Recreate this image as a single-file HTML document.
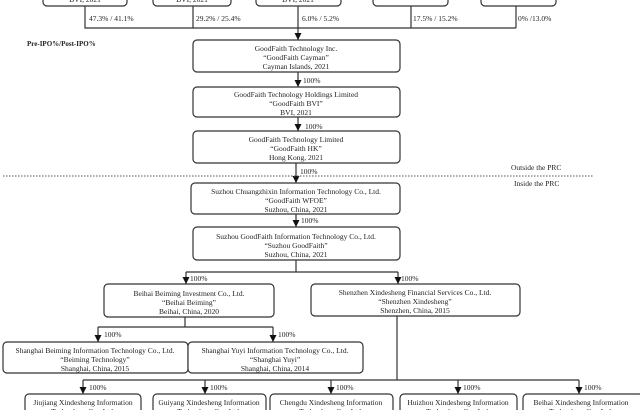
<!DOCTYPE html>
<html><head><meta charset="utf-8"><style>
html,body{margin:0;padding:0;background:#fff;width:640px;height:410px;overflow:hidden}
svg{display:block}
text{font-family:"Liberation Serif",serif;font-size:7.5px;fill:#222}
.b{fill:#fff;stroke:#333;stroke-width:1.2}
.l{stroke:#333;stroke-width:1.2;fill:none}
</style></head><body>
<svg width="640" height="410" viewBox="0 0 640 410" xmlns="http://www.w3.org/2000/svg">
<defs><marker id="a" markerWidth="7" markerHeight="7" refX="7" refY="3.5" orient="auto" markerUnits="userSpaceOnUse"><path d="M0,0 L7,3.5 L0,7 z" fill="#111"/></marker></defs>
<rect class="b" x="43" y="-20" width="84" height="26" rx="4"/>
<rect class="b" x="153" y="-20" width="78" height="26" rx="4"/>
<rect class="b" x="256" y="-20" width="85" height="26" rx="4"/>
<rect class="b" x="373" y="-20" width="75" height="26" rx="4"/>
<rect class="b" x="481" y="-20" width="75" height="26" rx="4"/>
<g text-anchor="middle"><text x="85" y="2">BVI, 2021</text><text x="192" y="2">BVI, 2021</text><text x="298" y="2">BVI, 2021</text></g>
<path class="l" d="M85 6V28H516M193 6V28M298 6V28M411 6V28M516 6V28"/>
<path class="l" d="M298 28V40" marker-end="url(#a)"/>
<text x="89" y="21">47.3% / 41.1%</text><text x="196" y="21">29.2% / 25.4%</text><text x="302" y="21">6.0% / 5.2%</text><text x="413" y="21">17.5% / 15.2%</text><text x="518" y="21">0% /13.0%</text>
<text x="27" y="46" style="font-weight:bold;font-size:7px">Pre-IPO%/Post-IPO%</text>
<rect class="b" x="193" y="40" width="207" height="32" rx="4"/>
<g text-anchor="middle"><text x="296" y="51">GoodFaith Technology Inc.</text><text x="296" y="60">“GoodFaith Cayman”</text><text x="296" y="69">Cayman Islands, 2021</text></g>
<path class="l" d="M298 72V87" marker-end="url(#a)"/><text x="303" y="83">100%</text>
<rect class="b" x="193" y="87" width="207" height="30" rx="4"/>
<g text-anchor="middle"><text x="296" y="97">GoodFaith Technology Holdings Limited</text><text x="296" y="106">“GoodFaith BVI”</text><text x="296" y="115">BVI, 2021</text></g>
<path class="l" d="M298 117V131" marker-end="url(#a)"/><text x="305" y="129">100%</text>
<rect class="b" x="193" y="131" width="207" height="32" rx="4"/>
<g text-anchor="middle"><text x="296" y="142">GoodFaith Technology Limited</text><text x="296" y="151">“GoodFaith HK”</text><text x="296" y="160">Hong Kong, 2021</text></g>
<path class="l" d="M296 163V183" marker-end="url(#a)"/><text x="300" y="174">100%</text>
<line x1="3" y1="176" x2="593" y2="176" stroke="#555" stroke-width="1" stroke-dasharray="1.5,1.5"/>
<text x="511" y="170">Outside the PRC</text><text x="514" y="186">Inside the PRC</text>
<rect class="b" x="191" y="183" width="209" height="31" rx="4"/>
<g text-anchor="middle"><text x="296" y="194">Suzhou Chuangzhixin Information Technology Co., Ltd.</text><text x="296" y="203">“GoodFaith WFOE”</text><text x="296" y="212">Suzhou, China, 2021</text></g>
<path class="l" d="M296 214V227" marker-end="url(#a)"/><text x="301" y="223">100%</text>
<rect class="b" x="193" y="227" width="207" height="33" rx="4"/>
<g text-anchor="middle"><text x="296" y="239">Suzhou GoodFaith Information Technology Co., Ltd.</text><text x="296" y="248">“Suzhou GoodFaith”</text><text x="296" y="257">Suzhou, China, 2021</text></g>
<path class="l" d="M296 260V272M186 272H398"/>
<path class="l" d="M186 272V284" marker-end="url(#a)"/><path class="l" d="M398 272V284" marker-end="url(#a)"/>
<text x="190" y="281">100%</text><text x="401" y="281">100%</text>
<rect class="b" x="104" y="284" width="170" height="33" rx="4"/>
<g text-anchor="middle"><text x="189" y="296">Beihai Beiming Investment Co., Ltd.</text><text x="189" y="305">“Beihai Beiming”</text><text x="189" y="314">Beihai, China, 2020</text></g>
<rect class="b" x="311" y="284" width="209" height="32" rx="4"/>
<g text-anchor="middle"><text x="415" y="295">Shenzhen Xindesheng Financial Services Co., Ltd.</text><text x="415" y="304">“Shenzhen Xindesheng”</text><text x="415" y="313">Shenzhen, China, 2015</text></g>
<path class="l" d="M185 317V327M98 327H273"/>
<path class="l" d="M98 327V342" marker-end="url(#a)"/><path class="l" d="M273 327V342" marker-end="url(#a)"/>
<text x="104" y="337">100%</text><text x="278" y="337">100%</text>
<rect class="b" x="3" y="342" width="185" height="31" rx="4"/>
<g text-anchor="middle"><text x="95" y="353">Shanghai Beiming Information Technology Co., Ltd.</text><text x="95" y="362">“Beiming Technology”</text><text x="95" y="371">Shanghai, China, 2015</text></g>
<rect class="b" x="188" y="342" width="175" height="31" rx="4"/>
<g text-anchor="middle"><text x="275" y="353">Shanghai Yuyi Information Technology Co., Ltd.</text><text x="275" y="362">“Shanghai Yuyi”</text><text x="275" y="371">Shanghai, China, 2014</text></g>
<path class="l" d="M397 316V380M83 380H579"/>
<path class="l" d="M83 380V394" marker-end="url(#a)"/><path class="l" d="M205 380V394" marker-end="url(#a)"/><path class="l" d="M331 380V394" marker-end="url(#a)"/><path class="l" d="M458 380V394" marker-end="url(#a)"/><path class="l" d="M579 380V394" marker-end="url(#a)"/>
<text x="89" y="390">100%</text><text x="210" y="390">100%</text><text x="336" y="390">100%</text><text x="463" y="390">100%</text><text x="584" y="390">100%</text>
<rect class="b" x="25" y="394" width="116" height="30" rx="4"/>
<rect class="b" x="153" y="394" width="113" height="30" rx="4"/>
<rect class="b" x="270" y="394" width="123" height="30" rx="4"/>
<rect class="b" x="400" y="394" width="117" height="30" rx="4"/>
<rect class="b" x="523" y="394" width="120" height="30" rx="4"/>
<g text-anchor="middle">
<text x="83" y="405">Jiujiang Xindesheng Information</text><text x="83" y="414">Technology Co., Ltd.</text>
<text x="209" y="405">Guiyang Xindesheng Information</text><text x="209" y="414">Technology Co., Ltd.</text>
<text x="331" y="405">Chengdu Xindesheng Information</text><text x="331" y="414">Technology Co., Ltd.</text>
<text x="458" y="405">Huizhou Xindesheng Information</text><text x="458" y="414">Technology Co., Ltd.</text>
<text x="581" y="405">Beihai Xindesheng Information</text><text x="581" y="414">Technology Co., Ltd.</text>
</g>
</svg>
</body></html>
